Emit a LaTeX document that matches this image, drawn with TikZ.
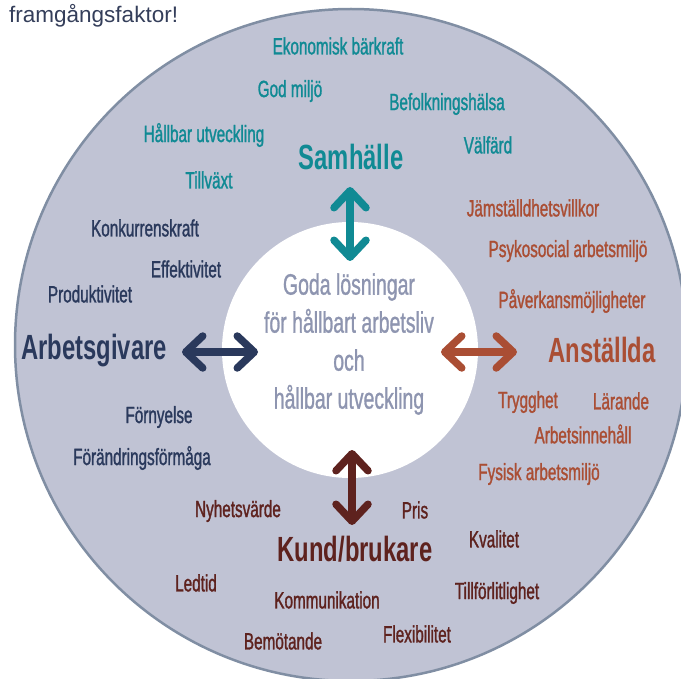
\documentclass[tikz,border=0pt]{standalone}
\usepackage{fontspec}
\setmainfont{Liberation Sans}[FakeStretch=0.68]
\newfontfamily\plainfont{Liberation Sans}
\newfontfamily\lblfont{Liberation Sans}[FakeStretch=0.65, FakeBold=1.2]
\newfontfamily\midfont{Liberation Sans}[FakeStretch=0.66, FakeBold=0.9]
\usetikzlibrary{arrows.meta}
\definecolor{ring}{RGB}{192,195,212}
\definecolor{rim}{RGB}{128,142,163}
\definecolor{centertxt}{RGB}{142,149,176}
\definecolor{tealc}{RGB}{16,138,148}
\definecolor{navyc}{RGB}{42,57,92}
\definecolor{orangec}{RGB}{170,78,52}
\definecolor{redc}{RGB}{94,34,30}
\definecolor{toptxt}{RGB}{52,62,90}
\begin{document}
\begin{tikzpicture}[x=1pt,y=-1pt,
  lbl/.style={inner sep=0pt, font=\lblfont\fontsize{23.5}{26}\selectfont},
  head/.style={inner sep=0pt, font=\fontsize{35}{40}\selectfont\bfseries},
  arr/.style={line width=7.5pt, line cap=round,
    {Straight Barb[round,length=17pt,width=32pt]}-{Straight Barb[round,length=17pt,width=32pt]}}]
\useasboundingbox (0,0) rectangle (681,679);
\draw[line width=2.5pt, draw=rim, fill=ring] (351,345) circle[radius=336];
\fill[white] (350,350) circle[radius=128];

\node[inner sep=0pt, anchor=base west, text=toptxt, font=\plainfont\fontsize{22.5}{26}\selectfont] (top) at (9,23) {framgångsfaktor!};

\node[inner sep=0pt, align=center, text=centertxt, font=\midfont\fontsize{29.5}{38}\selectfont] (mid) at (349,344)
  {Goda lösningar\\för hållbart arbetsliv\\och\\hållbar utveckling};

% Samhälle
\node[head, text=tealc] (sam) at (351,157) {Samhälle};
\node[lbl, text=tealc] (ek) at (338,46) {Ekonomisk bärkraft};
\node[lbl, text=tealc] (gm) at (290,91) {God miljö};
\node[lbl, text=tealc] (bh) at (447,104) {Befolkningshälsa};
\node[lbl, text=tealc] (hu) at (204,135) {Hållbar utveckling};
\node[lbl, text=tealc] (vf) at (488,145) {Välfärd};
\node[lbl, text=tealc] (tv) at (209,180) {Tillväxt};
\coordinate (samA) at (350,187);
\coordinate (samB) at (350,261);
\draw[arr, draw=tealc] (samA) -- (samB);

% Arbetsgivare
\node[head, text=navyc] (ag) at (94,351) {Arbetsgivare};
\node[lbl, text=navyc] (kk) at (145,228) {Konkurrenskraft};
\node[lbl, text=navyc] (ef) at (186,269) {Effektivitet};
\node[lbl, text=navyc] (pr) at (90,294) {Produktivitet};
\node[lbl, text=navyc] (fn) at (159,417) {Förnyelse};
\node[lbl, text=navyc] (ff) at (142,458) {Förändringsförmåga};
\coordinate (agA) at (182,352);
\coordinate (agB) at (258,352);
\draw[arr, draw=navyc] (agA) -- (agB);

% Anställda
\node[head, text=orangec] (an) at (602,350) {Anställda};
\node[lbl, text=orangec] (js) at (533,208) {Jämställdhetsvillkor};
\node[lbl, text=orangec] (ps) at (568,251) {Psykosocial arbetsmiljö};
\node[lbl, text=orangec] (pv) at (572,301) {Påverkansmöjligheter};
\node[lbl, text=orangec] (tr) at (528,402) {Trygghet};
\node[lbl, text=orangec] (la) at (621,401) {Lärande};
\node[lbl, text=orangec] (ai) at (583,434) {Arbetsinnehåll};
\node[lbl, text=orangec] (fy) at (539,474) {Fysisk arbetsmiljö};
\coordinate (anA) at (441,352);
\coordinate (anB) at (517,352);
\draw[arr, draw=orangec] (anA) -- (anB);

% Kund/brukare
\node[head, text=redc] (kb) at (355,549) {Kund/brukare};
\node[lbl, text=redc] (nv) at (238,511) {Nyhetsvärde};
\node[lbl, text=redc] (pri) at (415,510) {Pris};
\node[lbl, text=redc] (kv) at (494,539) {Kvalitet};
\node[lbl, text=redc] (lt) at (196,583) {Ledtid};
\node[lbl, text=redc] (ko) at (327,600) {Kommunikation};
\node[lbl, text=redc] (tf) at (497,593) {Tillförlitlighet};
\node[lbl, text=redc] (be) at (283,641) {Bemötande};
\node[lbl, text=redc] (fl) at (417,634) {Flexibilitet};
\coordinate (kbA) at (352,450);
\coordinate (kbB) at (352,525);
\draw[arr, draw=redc] (kbA) -- (kbB);
\end{tikzpicture}
\end{document}
